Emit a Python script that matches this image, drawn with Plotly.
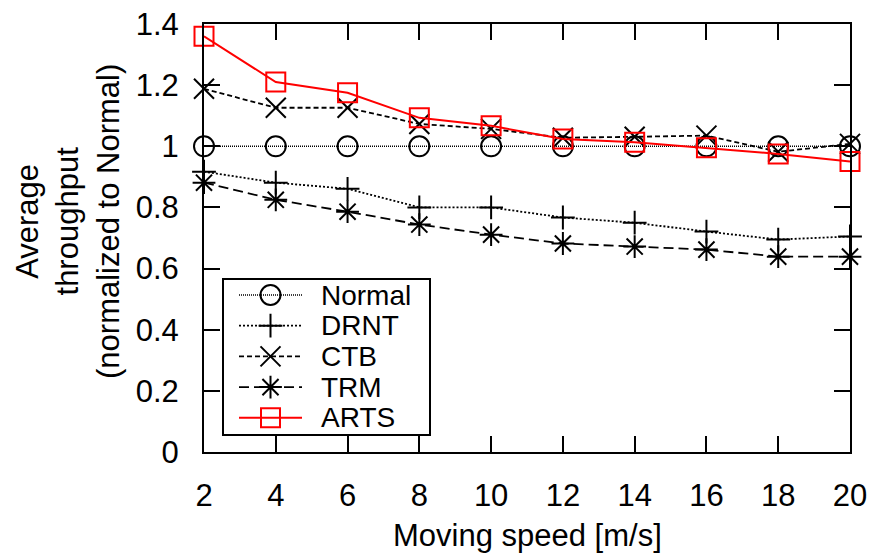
import plotly.graph_objects as go

speeds = [2, 4, 6, 8, 10, 12, 14, 16, 18, 20]
normal = [1.0, 1.0, 1.0, 1.0, 1.0, 1.0, 1.0, 1.0, 1.0, 1.0]
drnt = [0.917, 0.881, 0.861, 0.800, 0.800, 0.767, 0.750, 0.721, 0.695, 0.705]
ctb = [1.188, 1.126, 1.126, 1.073, 1.057, 1.028, 1.031, 1.035, 0.982, 1.008]
trm = [0.881, 0.825, 0.786, 0.744, 0.711, 0.682, 0.672, 0.662, 0.639, 0.639]
arts = [1.360, 1.210, 1.175, 1.093, 1.067, 1.024, 1.013, 0.995, 0.975, 0.950]

names = ["Normal", "DRNT", "CTB", "TRM", "ARTS"]
series = [normal, drnt, ctb, trm, arts]
colors = ["black", "black", "black", "black", "#ff0000"]
dashes = ["1px,1px", "2px,2px", "5px,3px", "10px,5px", "solid"]
widths = [1.5, 1.8, 1.8, 1.8, 2]
symbols = ["circle-open", "cross-thin-open", "x-thin-open", "asterisk-open", "square-open"]
sizes = [20, 17, 20, 19, 19]

x_ticks = [2, 4, 6, 8, 10, 12, 14, 16, 18, 20]
y_ticks = [0, 0.2, 0.4, 0.6, 0.8, 1.0, 1.2, 1.4]
y_labels = ["0", "0.2", "0.4", "0.6", "0.8", "1", "1.2", "1.4"]

FONT = "Liberation Sans, Arial, Helvetica, sans-serif"

fig = go.Figure()
for n, s, c, d, w, sym, sz in zip(names, series, colors, dashes, widths, symbols, sizes):
    fig.add_trace(go.Scatter(
        x=speeds, y=s, name=n, mode="lines+markers",
        line=dict(color=c, width=w, dash=d),
        marker=dict(symbol=sym, size=sz, color=c, line=dict(color=c, width=2)),
        cliponaxis=False, showlegend=False,
    ))

# custom legend drawn on an auxiliary axis (pixel-like units inside the box)
box_w, box_h = 207, 156
row0, row_step = 16, 30.7
seg_x0, seg_x1, text_x = 16, 79, 96
for i, (n, c, d, w, sym, sz) in enumerate(zip(names, colors, dashes, widths, symbols, sizes)):
    yy = row0 + i * row_step
    fig.add_trace(go.Scatter(
        x=[seg_x0, seg_x1], y=[yy, yy], mode="lines",
        line=dict(color=c, width=w, dash=d), xaxis="x2", yaxis="y2",
        showlegend=False, hoverinfo="skip"))
    fig.add_trace(go.Scatter(
        x=[(seg_x0 + seg_x1) / 2], y=[yy], mode="markers",
        marker=dict(symbol=sym, size=sz, color=c, line=dict(color=c, width=2)),
        xaxis="x2", yaxis="y2", showlegend=False, hoverinfo="skip", cliponaxis=False))
    fig.add_annotation(x=text_x, y=yy, xref="x2", yref="y2", text=n, showarrow=False,
                       xanchor="left", yanchor="middle",
                       font=dict(family=FONT, size=28, color="black"))

L, R, T, B = 204, 28, 24, 107
W, H = 878, 559
pw, ph = W - L - R, H - T - B
lx0, lx1 = (223 - L) / pw, (430 - L) / pw
ly0, ly1 = (H - B - 435) / ph, (H - B - 279) / ph

fig.add_shape(type="rect", xref="paper", yref="paper", x0=lx0, x1=lx1, y0=ly0, y1=ly1,
              line=dict(color="black", width=2), fillcolor="rgba(0,0,0,0)")

axis_common = dict(showline=True, linecolor="black", linewidth=2, mirror="ticks",
                   ticks="inside", ticklen=16, tickwidth=1.5, tickcolor="black",
                   showgrid=False, zeroline=False, automargin=False,
                   tickfont=dict(family=FONT, size=31, color="black"))

fig.update_layout(
    width=W, height=H,
    margin=dict(l=L, r=R, t=T, b=B, autoexpand=False),
    paper_bgcolor="white", plot_bgcolor="white",
    showlegend=False,
    xaxis=dict(range=[2, 20], tickvals=x_ticks, ticklabelstandoff=15, **axis_common),
    yaxis=dict(range=[0, 1.4], tickvals=y_ticks, ticktext=y_labels, ticklabelstandoff=17, **axis_common),
    xaxis2=dict(domain=[lx0, lx1], range=[0, box_w], visible=False, anchor="y2"),
    yaxis2=dict(domain=[ly0, ly1], range=[box_h, 0], visible=False, anchor="x2"),
)

fig.add_annotation(x=0.5, y=(H - B - 535) / ph, xref="paper", yref="paper",
                   text="Moving speed [m/s]", showarrow=False, xanchor="center", yanchor="middle",
                   font=dict(family=FONT, size=31, color="black"))
fig.add_annotation(x=(68 - L) / pw, y=(H - B - 222) / ph, xref="paper", yref="paper",
                   text="Average<br>throughput<br>(normalized to Normal)", showarrow=False,
                   textangle=-90, xanchor="center", yanchor="middle", align="center",
                   font=dict(family=FONT, size=31, color="black"))

fig.write_html("out.html")
